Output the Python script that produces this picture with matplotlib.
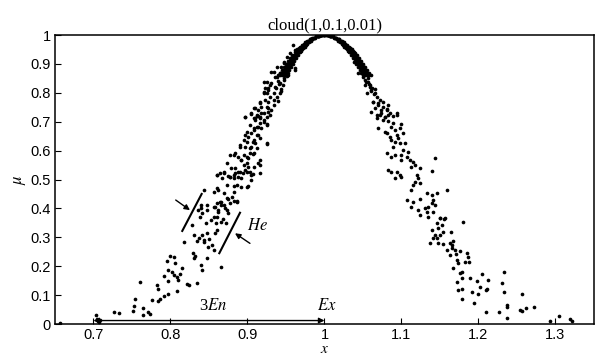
import matplotlib
matplotlib.use("Agg")
import matplotlib.pyplot as plt
import numpy as np

plt.rcParams["mathtext.fontset"] = "stix"

# cloud model parameters
Ex, En, He = 1, 0.1, 0.01

# dense crest of the cloud: membership levels and distance of drops from Ex
peak_mu = [1.0, 0.999, 0.997, 0.995, 0.99, 0.985, 0.98, 0.975, 0.97, 0.965,
           0.96, 0.955, 0.95, 0.945, 0.94, 0.93, 0.92, 0.91, 0.90, 0.89,
           0.88, 0.87, 0.86]
peak_dx_1 = [0.000, 0.0040, 0.0070, 0.0090, 0.0128, 0.0157, 0.0181, 0.0203,
             0.0222, 0.0240, 0.0257, 0.0273, 0.0288, 0.0303, 0.0317, 0.0343,
             0.0368, 0.0391, 0.0413, 0.0435, 0.0455, 0.0475, 0.0494]
peak_dx_2 = [0.003, 0.0042, 0.0074, 0.0095, 0.0135, 0.0165, 0.0191, 0.0214,
             0.0234, 0.0254, 0.0271, 0.0288, 0.0304, 0.0319, 0.0334, 0.0362,
             0.0388, 0.0413, 0.0436, 0.0459, 0.0480, 0.0501, 0.0522]
peak_dx_3 = [0.002, 0.0045, 0.0078, 0.0100, 0.0142, 0.0174, 0.0201, 0.0225,
             0.0247, 0.0267, 0.0286, 0.0303, 0.0320, 0.0336, 0.0352, 0.0381,
             0.0408, 0.0434, 0.0459, 0.0483, 0.0506, 0.0528, 0.0549]
peak_dx_4 = [0.004, 0.0047, 0.0081, 0.0105, 0.0149, 0.0183, 0.0211, 0.0236,
             0.0259, 0.0280, 0.0300, 0.0319, 0.0336, 0.0353, 0.0369, 0.0400,
             0.0429, 0.0456, 0.0482, 0.0507, 0.0531, 0.0554, 0.0577]
peak_dx_5 = [0.001, 0.0049, 0.0085, 0.0110, 0.0156, 0.0191, 0.0221, 0.0248,
             0.0271, 0.0294, 0.0314, 0.0334, 0.0352, 0.0370, 0.0387, 0.0419,
             0.0449, 0.0478, 0.0505, 0.0531, 0.0556, 0.0581, 0.0604]

# scattered drops, left side
left_x = [0.656, 0.703, 0.704, 0.706, 0.709, 0.707, 0.727, 0.733, 0.751, 0.753,
          0.754, 0.760, 0.764, 0.764, 0.771, 0.774, 0.776, 0.784, 0.786, 0.782,
          0.784, 0.791, 0.797, 0.792, 0.797, 0.809, 0.821, 0.824, 0.835,
          0.795, 0.800, 0.805, 0.806, 0.797, 0.802, 0.805, 0.808, 0.813, 0.810,
          0.815, 0.817, 0.829, 0.832, 0.830, 0.839, 0.841, 0.828, 0.834, 0.837,
          0.841, 0.843, 0.847, 0.850, 0.854, 0.856, 0.847, 0.858, 0.861, 0.866,
          0.846, 0.852, 0.859, 0.865, 0.868, 0.872, 0.836, 0.841, 0.844, 0.839,
          0.848, 0.856, 0.860, 0.865, 0.869, 0.862, 0.873, 0.875, 0.880, 0.882,
          0.886, 0.877, 0.873, 0.882, 0.887, 0.891, 0.856, 0.861, 0.875, 0.882,
          0.888, 0.894, 0.900, 0.907, 0.901, 0.904, 0.867, 0.869, 0.831, 0.844,
          0.849, 0.860,
          0.864, 0.860, 0.877, 0.882, 0.892, 0.905, 0.899, 0.862, 0.869, 0.873,
          0.882, 0.886, 0.864, 0.858, 0.866, 0.871, 0.862, 0.875, 0.840, 0.847,
          0.856, 0.838, 0.873, 0.884, 0.895, 0.901, 0.888, 0.897, 0.903, 0.916,
          0.916, 0.892, 0.877, 0.884, 0.899, 0.903, 0.907, 0.890, 0.905, 0.912,
          0.925, 0.899, 0.907, 0.897, 0.905, 0.914, 0.908, 0.918, 0.925, 0.912,
          0.916, 0.921, 0.905, 0.914, 0.918, 0.927, 0.929, 0.910,
          0.959, 0.962, 0.955, 0.951, 0.947, 0.944, 0.951, 0.955, 0.960, 0.962,
          0.949, 0.942, 0.938, 0.947, 0.934, 0.931, 0.936, 0.942, 0.927, 0.925,
          0.921, 0.929, 0.923, 0.916, 0.925, 0.934, 0.921, 0.914, 0.921, 0.912,
          0.916, 0.908, 0.910, 0.903, 0.908, 0.914, 0.921, 0.925, 0.897, 0.899,
          0.901, 0.908, 0.912, 0.916, 0.895, 0.890, 0.897, 0.903, 0.910, 0.925,
          0.882, 0.888, 0.895, 0.901, 0.908, 0.892, 0.899, 0.908, 0.914, 0.916,
          0.860, 0.869, 0.879, 0.884, 0.890, 0.877,
          0.931, 0.960, 0.936, 0.925, 0.923, 0.921, 0.916, 0.910, 0.905, 0.897,
          0.934, 0.942, 0.938, 0.947, 0.962, 0.929, 0.927, 0.938, 0.927, 0.940,
          0.918, 0.927, 0.931, 0.912, 0.916, 0.925, 0.908,
          0.948, 0.941, 0.937, 0.944, 0.935, 0.951, 0.939, 0.946, 0.953, 0.943]
left_mu = [0.004, 0.030, 0.018, 0.012, 0.014, 0.008, 0.040, 0.038, 0.046, 0.061,
           0.085, 0.146, 0.057, 0.031, 0.040, 0.036, 0.084, 0.081, 0.088, 0.134,
           0.121, 0.096, 0.104, 0.165, 0.150, 0.114, 0.140, 0.136, 0.142,
           0.219, 0.235, 0.231, 0.212, 0.187, 0.181, 0.170, 0.164, 0.173, 0.152,
           0.193, 0.285, 0.247, 0.235, 0.227, 0.204, 0.187, 0.343, 0.288, 0.296,
           0.308, 0.291, 0.314, 0.293, 0.273, 0.256, 0.227, 0.314, 0.325, 0.198,
           0.348, 0.360, 0.348, 0.354, 0.362, 0.351, 0.394, 0.385, 0.464, 0.412,
           0.412, 0.404, 0.418, 0.423, 0.412, 0.389, 0.394, 0.431, 0.441, 0.427,
           0.423, 0.418, 0.481, 0.478, 0.481, 0.473, 0.458, 0.469, 0.512, 0.516,
           0.507, 0.524, 0.527, 0.519, 0.478, 0.498, 0.504, 0.527, 0.308, 0.285,
           0.265, 0.370,
           0.521, 0.516, 0.510, 0.504, 0.504, 0.516, 0.475, 0.464, 0.452, 0.435,
           0.458, 0.427, 0.423, 0.406, 0.412, 0.400, 0.394, 0.383, 0.400, 0.394,
           0.371, 0.371, 0.556, 0.539, 0.550, 0.544, 0.527, 0.533, 0.527, 0.550,
           0.568, 0.568, 0.585, 0.590, 0.579, 0.593, 0.588, 0.614, 0.614, 0.608,
           0.625, 0.631, 0.631, 0.654, 0.660, 0.654, 0.671, 0.677, 0.689, 0.683,
           0.694, 0.706, 0.727, 0.720, 0.731, 0.735, 0.723, 0.712,
           0.965, 0.948, 0.937, 0.925, 0.908, 0.890, 0.896, 0.908, 0.919, 0.879,
           0.873, 0.867, 0.856, 0.850, 0.873, 0.833, 0.821, 0.833, 0.816, 0.798,
           0.804, 0.787, 0.775, 0.764, 0.752, 0.775, 0.839, 0.740, 0.729, 0.723,
           0.712, 0.746, 0.706, 0.689, 0.677, 0.683, 0.700, 0.692, 0.717, 0.666,
           0.648, 0.637, 0.654, 0.642, 0.637, 0.619, 0.614, 0.608, 0.625, 0.623,
           0.585, 0.579, 0.585, 0.573, 0.591, 0.567, 0.556, 0.544, 0.556, 0.521,
           0.516, 0.521, 0.539, 0.521, 0.527, 0.510,
           0.873, 0.925, 0.856, 0.839, 0.815, 0.798, 0.769, 0.746, 0.729, 0.715,
           0.758, 0.798, 0.890, 0.902, 0.885, 0.827, 0.810, 0.787, 0.769, 0.773,
           0.752, 0.746, 0.740, 0.720, 0.715, 0.717, 0.712,
           0.845, 0.830, 0.818, 0.812, 0.800, 0.858, 0.840, 0.826, 0.862, 0.806]

# scattered drops, right side
right_x = [1.033, 1.040, 1.042, 1.038, 1.046, 1.048, 1.053, 1.044, 1.050, 1.055,
           1.057, 1.053, 1.059, 1.061, 1.066, 1.055, 1.068, 1.072, 1.063, 1.070,
           1.076, 1.081, 1.074, 1.083, 1.068, 1.079, 1.089, 1.094,
           1.063, 1.070, 1.076, 1.083, 1.066, 1.074, 1.081, 1.061, 1.072, 1.079,
           1.085, 1.094, 1.068, 1.076, 1.083, 1.089, 1.070, 1.079, 1.087, 1.092,
           1.100, 1.098, 1.102, 1.081, 1.085, 1.094, 1.087, 1.092, 1.096, 1.098,
           1.105, 1.089, 1.102, 1.109, 1.081, 1.087, 1.092, 1.100, 1.107, 1.100,
           1.111, 1.115, 1.118, 1.113, 1.124, 1.144, 1.083, 1.087, 1.094, 1.098,
           1.100, 1.092, 1.120, 1.122, 1.118, 1.115, 1.124, 1.113, 1.139, 1.133,
           1.139, 1.146, 1.159, 1.107, 1.115, 1.124, 1.141, 1.139, 1.113, 1.131,
           1.135, 1.144, 1.122, 1.133, 1.124, 1.135, 1.150, 1.157,
           1.141, 1.150, 1.155, 1.146, 1.152, 1.148, 1.139, 1.154, 1.143, 1.150,
           1.146, 1.141, 1.137, 1.148, 1.154, 1.163, 1.165, 1.167, 1.164, 1.180,
           1.165, 1.159, 1.169, 1.176, 1.163, 1.171, 1.185, 1.187, 1.172, 1.174,
           1.182, 1.188, 1.167, 1.178, 1.176, 1.204, 1.233, 1.172, 1.179, 1.189,
           1.198, 1.213, 1.230, 1.174, 1.178, 1.191, 1.200, 1.202, 1.210, 1.211,
           1.233, 1.179, 1.194, 1.256, 1.237, 1.237, 1.210, 1.226, 1.254, 1.256,
           1.262, 1.272, 1.237, 1.293, 1.305, 1.319, 1.321,
           1.052, 1.058, 1.062, 1.060, 1.065, 1.056, 1.064, 1.049, 1.054, 1.059]
right_mu = [0.954, 0.937, 0.919, 0.908, 0.902, 0.885, 0.879, 0.867, 0.856, 0.862,
            0.839, 0.827, 0.821, 0.810, 0.798, 0.798, 0.787, 0.775, 0.769, 0.758,
            0.752, 0.741, 0.729, 0.723, 0.723, 0.715, 0.720, 0.729,
            0.769, 0.764, 0.769, 0.758, 0.746, 0.741, 0.743, 0.735, 0.723, 0.717,
            0.729, 0.723, 0.712, 0.706, 0.704, 0.694, 0.677, 0.666, 0.683, 0.671,
            0.692, 0.677, 0.660, 0.660, 0.648, 0.654, 0.637, 0.631, 0.643, 0.625,
            0.625, 0.614, 0.602, 0.596, 0.591, 0.579, 0.585, 0.585, 0.579, 0.568,
            0.568, 0.562, 0.550, 0.544, 0.539, 0.573, 0.533, 0.527, 0.527, 0.516,
            0.510, 0.504, 0.516, 0.504, 0.493, 0.481, 0.487, 0.464, 0.531, 0.455,
            0.446, 0.452, 0.464, 0.429, 0.423, 0.431, 0.429, 0.418, 0.406, 0.400,
            0.406, 0.412, 0.394, 0.389, 0.377, 0.371, 0.366, 0.366,
            0.389, 0.366, 0.362, 0.348, 0.343, 0.331, 0.325, 0.320, 0.308, 0.308,
            0.296, 0.296, 0.279, 0.279, 0.277, 0.279, 0.273, 0.288, 0.320, 0.354,
            0.262, 0.256, 0.256, 0.254, 0.239, 0.242, 0.245, 0.231, 0.221, 0.212,
            0.213, 0.216, 0.193, 0.181, 0.175, 0.173, 0.181, 0.147, 0.158, 0.158,
            0.149, 0.152, 0.141, 0.118, 0.120, 0.112, 0.104, 0.127, 0.118, 0.122,
            0.111, 0.085, 0.072, 0.104, 0.066, 0.060, 0.043, 0.043, 0.049, 0.046,
            0.055, 0.060, 0.022, 0.012, 0.029, 0.017, 0.011,
            0.845, 0.830, 0.818, 0.805, 0.812, 0.852, 0.796, 0.872, 0.836, 0.826]

xticks = [0.7, 0.8, 0.9, 1.0, 1.1, 1.2, 1.3]
xtick_labels = ["0.7", "0.8", "0.9", "1", "1.1", "1.2", "1.3"]
yticks = [0, 0.1, 0.2, 0.3, 0.4, 0.5, 0.6, 0.7, 0.8, 0.9, 1.0]
ytick_labels = ["0", "0.1", "0.2", "0.3", "0.4", "0.5", "0.6", "0.7", "0.8", "0.9", "1"]

# put the crest drops on both sides of Ex
peak_x, peak_y = [], []
for dx in (peak_dx_1, peak_dx_2, peak_dx_3, peak_dx_4, peak_dx_5):
    peak_x += [Ex - d for d in dx] + [Ex + d for d in dx]
    peak_y += peak_mu + peak_mu

all_x = np.array(peak_x + left_x + right_x)
all_mu = np.array(peak_y + left_mu + right_mu)

fig = plt.figure(figsize=(5.95, 3.55), dpi=100)
ax = fig.add_axes([0.0924, 0.0873, 0.9059, 0.8141])

ax.scatter(all_x, all_mu, s=7, c="k", marker="o", linewidths=0, zorder=3)

ax.set_xlim(0.65, 1.35)
ax.set_ylim(0, 1)
ax.set_xticks(xticks)
ax.set_xticklabels(xtick_labels)
ax.set_yticks(yticks)
ax.set_yticklabels(ytick_labels)
ax.tick_params(direction="in", length=4.5, width=0.8, pad=3, labelsize=10.5)
for lab in ax.get_xticklabels() + ax.get_yticklabels():
    lab.set_family("Liberation Sans")
for sp in ax.spines.values():
    sp.set_linewidth(1.1)

ax.set_title("cloud(1,0.1,0.01)", family="Liberation Serif", fontsize=12, pad=4)
ax.set_xlabel("$x$", fontsize=11, labelpad=-1)
ax.set_ylabel(r"$\mu$", fontsize=12, labelpad=2)

# 3En span
ax.annotate("", xy=(0.7, 0.012), xytext=(1.0, 0.012),
            arrowprops=dict(arrowstyle="<|-|>", color="k", lw=1.0,
                            mutation_scale=8, shrinkA=0, shrinkB=0))
ax.text(0.855, 0.062, "3$En$", ha="center", va="center", fontsize=12,
        family="Liberation Serif")
ax.text(1.003, 0.066, "$Ex$", ha="center", va="center", fontsize=12)

# He width marks
ax.plot([0.8153, 0.8405], [0.322, 0.450], color="k", lw=1.5)
ax.plot([0.8634, 0.8903], [0.245, 0.385], color="k", lw=1.5)
ax.annotate("", xy=(0.8253, 0.394), xytext=(0.8068, 0.429),
            arrowprops=dict(arrowstyle="-|>", color="k", lw=1.0,
                            mutation_scale=8, shrinkA=0, shrinkB=0))
ax.annotate("", xy=(0.8838, 0.314), xytext=(0.9032, 0.279),
            arrowprops=dict(arrowstyle="-|>", color="k", lw=1.0,
                            mutation_scale=8, shrinkA=0, shrinkB=0))
ax.text(0.899, 0.343, "$He$", ha="left", va="center", fontsize=12)

fig.savefig("out.png", dpi=100)
